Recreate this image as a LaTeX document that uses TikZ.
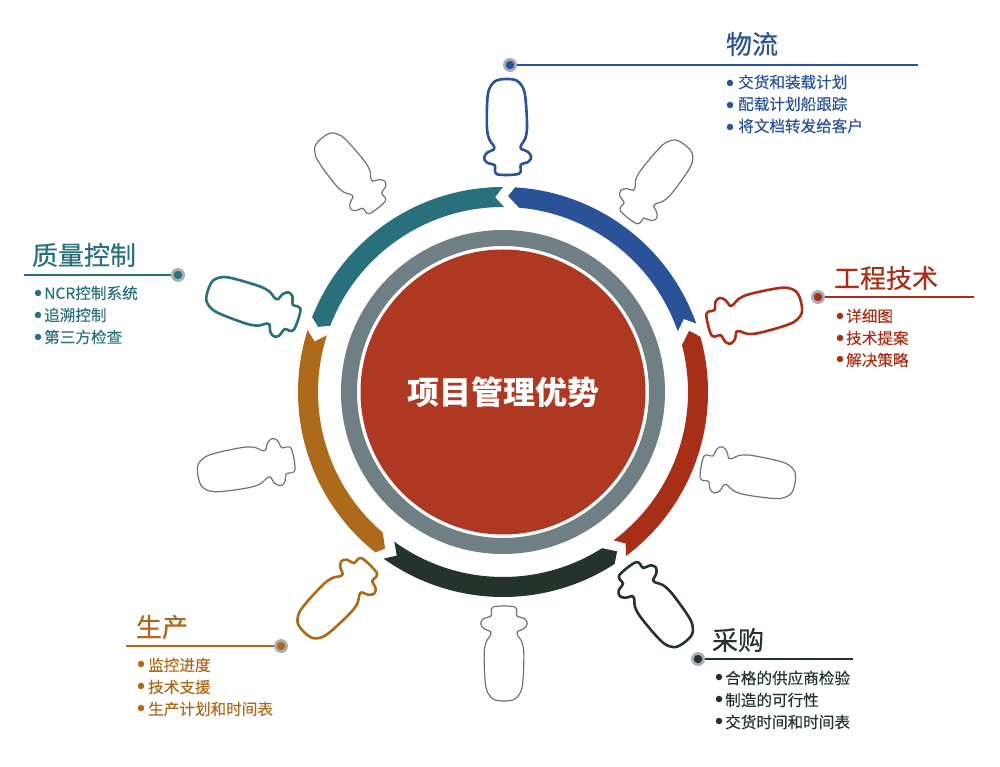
\documentclass[tikz,border=0pt]{standalone}
\usepackage{fontspec}
\setmainfont{Noto Sans CJK SC}
\newfontfamily\headfont[FakeBold=0.5]{Noto Sans CJK SC}
\newfontfamily\itemfont[FakeBold=0.15]{Noto Sans CJK SC}
\definecolor{cblue}{HTML}{2A5298}
\definecolor{cred}{HTML}{A82F17}
\definecolor{cdark}{HTML}{24332C}
\definecolor{corange}{HTML}{AD6A1A}
\definecolor{cteal}{HTML}{28707C}
\definecolor{cgray}{HTML}{6F7F83}
\definecolor{ccenter}{HTML}{AF3822}
\definecolor{cline}{HTML}{6B7579}
\definecolor{chalo}{HTML}{A9ADB5}
\tikzset{
  heading/.style={anchor=center,inner sep=0pt,font=\headfont\fontsize{26}{30}\selectfont},
  itemtext/.style={anchor=west,inner sep=0pt,font=\itemfont\fontsize{15.6}{18}\selectfont},
  bulletdot/.style={circle,inner sep=0pt,minimum size=6.5pt},
  leaderdot/.style={circle,inner sep=0pt,minimum size=14pt,fill=chalo,
    path picture={\fill[#1] (path picture bounding box.center) circle[radius=4.2pt];}},
  leader/.style={line width=2.4pt},
  thinbottle/.style={draw=cline,line width=1.2pt,fill=white},
  boldbottle/.style={line width=2.6pt,fill=white}
}
% bottle: style, near x,y and far x,y in pixel coordinates
\newcommand{\bottleat}[5]{%
  \pgfmathsetmacro{\bang}{atan2(#3-#5,#4-#2)-90}%
  \pgfmathsetmacro{\bscl}{veclen(#4-#2,#5-#3)/96}%
  \draw[#1,shift={(#2,766-#3)},rotate=\bang,scale=\bscl]
    plot[smooth cycle,tension=0.55] coordinates{
      (0,0)(11,1)(13,5)(13,10)(21,13)(23.5,18)(20,23)(13.5,26)(14,30)(18,36)(20,47)(19.5,70)(17.5,85)(11,94)(0,96)
      (-11,94)(-17.5,85)(-19.5,70)(-20,47)(-18,36)(-14,30)(-13.5,26)(-20,23)(-23.5,18)(-21,13)(-13,10)(-13,5)(-11,1)};
}
% ring segment: colour, tip, outer shoulder, outer tail, notch, inner tail, inner shoulder
\newcommand{\ringseg}[7]{%
  \fill[#1,shift={(503,374)}] (#2:196) -- (#3:205)
    arc[start angle=#3,end angle=#4,radius=205] -- (#5:195) -- (#6:185)
    arc[start angle=#6,end angle=#7,radius=185] -- cycle;
}
\begin{document}
\begin{tikzpicture}[x=1pt,y=1pt]
\useasboundingbox (0,0) rectangle (1000,766);
\fill[white] (0,0) rectangle (1000,766);

% bottles
\bottleat{boldbottle,draw=cblue}{508}{175}{506}{79}
\bottleat{thinbottle}{628}{218}{685}{145}
\bottleat{boldbottle,draw=cred}{708}{325}{801}{302}
\bottleat{thinbottle}{701}{467}{795}{483}
\bottleat{boldbottle,draw=cdark}{627}{568}{685}{642}
\bottleat{thinbottle}{504}{606}{504}{701}
\bottleat{boldbottle,draw=corange}{370}{565}{304}{632}
\bottleat{thinbottle}{294}{459}{198}{476}
\bottleat{boldbottle,draw=cteal}{298}{320}{208}{290}
\bottleat{thinbottle}{378}{208}{322}{138}

% outer ring
\ringseg{cblue}{88.5}{86.6}{19.5}{22}{19.2}{85}
\ringseg{cred}{18.2}{15.6}{-53.2}{-51}{-53.3}{14.7}
\ringseg{cdark}{-54.4}{-57}{-125.6}{-123}{-126}{-57.6}
\ringseg{corange}{233}{231.5}{162.4}{165}{162.1}{229.5}
\ringseg{cteal}{160.6}{158.6}{90}{92.3}{89.7}{159}

% centre
\node[circle,draw=cgray,line width=16pt,minimum size=308pt,inner sep=0pt] (ring) at (503,374) {};
\node[circle,fill=ccenter,minimum size=285pt,inner sep=0pt,text=white,font=\fontsize{32}{36}\selectfont\bfseries] (core) at (503,374) {项目管理优势};

% logistics
\node[leaderdot=cblue] (dotA) at (510,701) {};
\coordinate (endA) at (918,701);
\draw[leader,cblue] (dotA) -- (endA);
\node[heading,text=cblue] (headA) at (752,722) {物流};
\node[bulletdot,fill=cblue] (bA1) at (730,683) {};
\node[bulletdot,fill=cblue] (bA2) at (730,661) {};
\node[bulletdot,fill=cblue] (bA3) at (730,639) {};
\node[itemtext,text=cblue] (tA1) at (738,684) {交货和装载计划};
\node[itemtext,text=cblue] (tA2) at (738,662) {配载计划船跟踪};
\node[itemtext,text=cblue] (tA3) at (738,640) {将文档转发给客户};

% engineering
\node[leaderdot=cred] (dotB) at (818,469) {};
\coordinate (endB) at (974,469);
\draw[leader,cred] (dotB) -- (endB);
\node[heading,text=cred] (headB) at (886,488) {工程技术};
\node[bulletdot,fill=cred] (bB1) at (840,450) {};
\node[bulletdot,fill=cred] (bB2) at (840,428) {};
\node[bulletdot,fill=cred] (bB3) at (840,407) {};
\node[itemtext,text=cred] (tB1) at (846,450) {详细图};
\node[itemtext,text=cred] (tB2) at (846,428) {技术提案};
\node[itemtext,text=cred] (tB3) at (846,406) {解决策略};

% quality
\node[leaderdot=cteal] (dotC) at (178,491) {};
\coordinate (endC) at (24,491);
\draw[leader,cteal] (dotC) -- (endC);
\node[heading,text=cteal] (headC) at (84,511) {质量控制};
\node[bulletdot,fill=cteal] (bC1) at (38,473) {};
\node[bulletdot,fill=cteal] (bC2) at (38,451) {};
\node[bulletdot,fill=cteal] (bC3) at (38,429) {};
\node[itemtext,text=cteal] (tC1) at (44,473) {NCR控制系统};
\node[itemtext,text=cteal] (tC2) at (44,451) {追溯控制};
\node[itemtext,text=cteal] (tC3) at (44,429) {第三方检查};

% production
\node[leaderdot=corange] (dotD) at (281,120) {};
\coordinate (endD) at (126,120);
\draw[leader,corange] (dotD) -- (endD);
\node[heading,text=corange] (headD) at (162,139) {生产};
\node[bulletdot,fill=corange] (bD1) at (141,102) {};
\node[bulletdot,fill=corange] (bD2) at (141,80) {};
\node[bulletdot,fill=corange] (bD3) at (141,58) {};
\node[itemtext,text=corange] (tD1) at (148,101) {监控进度};
\node[itemtext,text=corange] (tD2) at (148,79) {技术支援};
\node[itemtext,text=corange] (tD3) at (148,57) {生产计划和时间表};

% procurement
\node[leaderdot=cdark] (dotE) at (698,107) {};
\coordinate (endE) at (853,107);
\draw[leader,cdark] (dotE) -- (endE);
\node[heading,text=cdark] (headE) at (738,126) {采购};
\node[bulletdot,fill=cdark] (bE1) at (719,89) {};
\node[bulletdot,fill=cdark] (bE2) at (719,67) {};
\node[bulletdot,fill=cdark] (bE3) at (719,45) {};
\node[itemtext,text=cdark] (tE1) at (725,88) {合格的供应商检验};
\node[itemtext,text=cdark] (tE2) at (725,66) {制造的可行性};
\node[itemtext,text=cdark] (tE3) at (725,44) {交货时间和时间表};
\end{tikzpicture}
\end{document}
